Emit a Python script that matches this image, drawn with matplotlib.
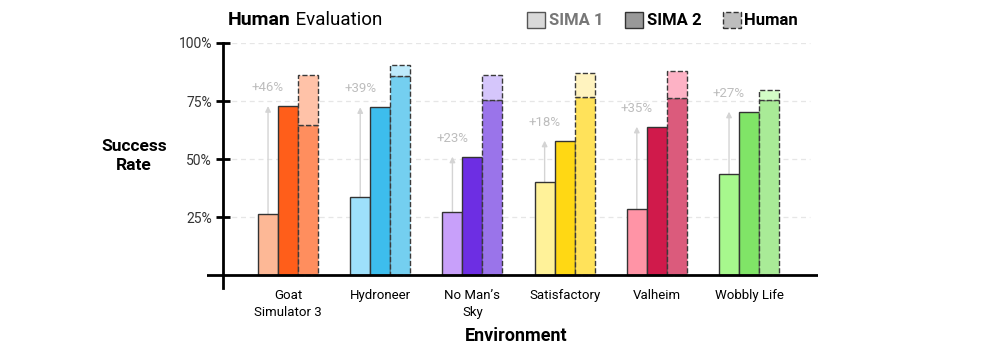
import numpy as np
import matplotlib.pyplot as plt
from matplotlib.patches import Patch

plt.rcParams['font.family'] = ['Roboto', 'DejaVu Sans']

# values
envs = ['Goat\nSimulator 3', 'Hydroneer', 'No Man\u2019s\nSky', 'Satisfactory', 'Valheim', 'Wobbly Life']
sima1 = [26.3, 33.8, 27.3, 40.2, 28.4, 43.5]
sima2 = [72.8, 72.3, 51.0, 57.9, 63.9, 70.4]
human_lo = [64.7, 85.9, 75.4, 76.6, 76.1, 75.4]
human_hi = [86.2, 90.5, 86.2, 86.9, 87.9, 79.7]
gains = ['+46%', '+39%', '+23%', '+18%', '+35%', '+27%']
yticks = [25, 50, 75, 100]

c_sima1 = ['#FDB896', '#9EE0FB', '#C8A0FA', '#FFF299', '#FF94A6', '#A7F88D']
c_sima2 = ['#FF5E1A', '#3DBDED', '#6D2EE3', '#FFD814', '#D01A4B', '#80E467']
c_hlo = ['#FF8E5E', '#74CFF0', '#9A74EA', '#FFE25A', '#DB5B7C', '#A9EB97']
c_hhi = ['#FFC2A8', '#BDEAFB', '#D5C6FB', '#FFF3BF', '#FDB2C5', '#D3FDC6']

fig = plt.figure(figsize=(9.96, 3.54), dpi=100)
ax = fig.add_axes([207/996, 66/354, 611/996, 245/354])

x = np.arange(len(envs))
w = 0.217
spine_x = -0.705

ax.set_xlim(-0.879, 5.748)
ax.set_ylim(-5.6, 100)

for yv in yticks:
    ax.plot([spine_x, 5.66], [yv, yv], ls=(0, (4, 3)), color='#e6e6e6', lw=0.9, zorder=0)

for i in range(len(envs)):
    ax.bar(x[i] - w, sima1[i], w, color=c_sima1[i], edgecolor='#333333', lw=1, zorder=2)
    ax.bar(x[i], sima2[i], w, color=c_sima2[i], edgecolor='#333333', lw=1, zorder=2)
    ax.bar(x[i] + w, human_lo[i], w, color=c_hlo[i], edgecolor='#3a3a3a', lw=1,
           ls='--', zorder=2)
    ax.bar(x[i] + w, human_hi[i] - human_lo[i], w, bottom=human_lo[i], color=c_hhi[i],
           edgecolor='#3a3a3a', lw=1, ls='--', zorder=2)
    ax.annotate('', xy=(x[i] - w, sima2[i]), xytext=(x[i] - w, sima1[i]),
                arrowprops=dict(arrowstyle='-|>', color='#d4d4d4', lw=1,
                                mutation_scale=8, shrinkA=0, shrinkB=0), zorder=1)
    ax.text(x[i] - w, sima2[i] + 8, gains[i], ha='center', va='center',
            color='#bdbdbd', fontsize=9.5)

ax.axhline(0, color='black', lw=2, zorder=3)

for s in ['top', 'right', 'bottom']:
    ax.spines[s].set_visible(False)
ax.spines['left'].set_position(('data', spine_x))
ax.spines['left'].set_linewidth(2)
ax.spines['left'].set_bounds(-5.6, 100)

ax.set_yticks(yticks)
ax.set_yticklabels([f'{v}%' for v in yticks], fontsize=10, color='#333333')
ax.tick_params(axis='y', direction='inout', length=10, width=2, pad=3)
ax.set_xticks(x)
ax.set_xticklabels(envs, fontsize=9.5, linespacing=1.35)
ax.tick_params(axis='x', length=0, pad=1)

fig.text(134/996, 1 - 156/354, 'Success\nRate', ha='center', va='center',
         fontsize=12.5, fontweight='bold', linespacing=1.3)
fig.text(516/996, 1 - 336/354, 'Environment', ha='center', va='center',
         fontsize=13, fontweight='bold')

t1 = fig.text(228/996, 1 - 20/354, 'Human', ha='left', va='center',
              fontsize=14, fontweight='bold')
ax.annotate(' Evaluation', xy=(1, 0), xycoords=t1, ha='left', va='bottom',
            fontsize=13.5, annotation_clip=False)

handles = [
    Patch(facecolor='#d9d9d9', edgecolor='#555555', lw=1),
    Patch(facecolor='#999999', edgecolor='#333333', lw=1),
    Patch(facecolor='#bdbdbd', edgecolor='#333333', lw=1, ls='--'),
]
leg = fig.legend(handles, ['SIMA 1', 'SIMA 2', 'Human'], loc='center left',
                 bbox_to_anchor=(527/996, 1 - 20/354), ncol=3, frameon=False,
                 prop={'weight': 'bold', 'size': 12}, handlelength=1.1,
                 handleheight=1.1, handletextpad=0.2, columnspacing=1.3,
                 borderaxespad=0, borderpad=0)
for t, c in zip(leg.get_texts(), ['#777777', 'black', 'black']):
    t.set_color(c)

fig.savefig('out.png', dpi=100)
